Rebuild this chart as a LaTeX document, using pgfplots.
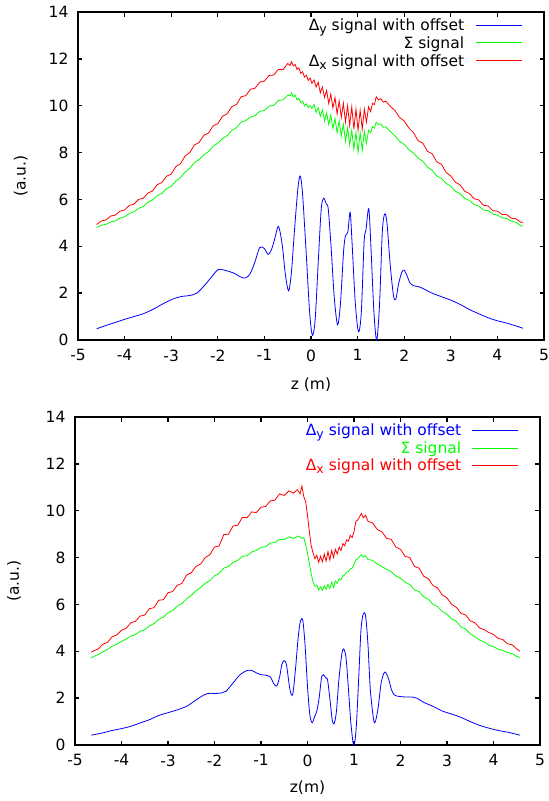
\documentclass[border=0pt]{standalone}
\usepackage{pgfplots}
\pgfplotsset{compat=1.18}
\usepackage{fontspec}
\setmainfont{DejaVu Sans}
\newcommand{\sub}[1]{\raisebox{-0.35ex}{\fontsize{12.5}{12.5}\selectfont #1}}

\tikzset{
  key/.style={line width=1pt},
  keytext/.style={anchor=base east, inner sep=0pt},
}
\pgfplotsset{
  sig/.style={
    scale only axis,
    xmin=-5, xmax=5, ymin=0, ymax=14,
    xtick={-5,-4,...,5},
    xticklabels={-5,-4,-3,-2,-1,0,1,2,3,4,5},
    ytick={0,2,...,14},
    yticklabels={0,2,4,6,8,10,12,14},
    xticklabel style={yshift=-6pt},
    yticklabel style={xshift=-6pt},
    tick align=inside,
    major tick length=4.5pt,
    axis line style={line width=1.6pt},
    every tick/.style={black, line width=1.3pt},
    ylabel={(a.u.)},
    clip=false,
    every axis plot/.append style={line width=0.8pt},
  },
}

\begin{document}
\begin{tikzpicture}[x=1pt, y=1pt, font=\fontsize{15.5}{18}\selectfont]
\path[use as bounding box] (-78pt,-461pt) rectangle (471pt,340pt);

% ---------- top panel ----------
\begin{axis}[sig,
  at={(0pt,0pt)}, anchor=south west,
  width=466pt, height=328pt,
  xlabel={z (m)},
  xlabel style={at={(axis description cs:0.5,-0.137)}, anchor=center},
  ylabel style={at={(axis description cs:-0.123,0.5)}, anchor=center},
]
\addplot[blue, smooth] coordinates {
(-4.6,0.48) (-4.4,0.62) (-4.2,0.75) (-4.0,0.88) (-3.8,1.0) (-3.6,1.12)
(-3.4,1.3) (-3.2,1.52) (-3.0,1.72) (-2.8,1.85) (-2.6,1.9) (-2.45,2.0)
(-2.3,2.3) (-2.15,2.65) (-2.0,3.0) (-1.9,3.0) (-1.8,2.95) (-1.65,2.85)
(-1.5,2.68) (-1.4,2.65) (-1.3,2.85) (-1.2,3.35) (-1.1,3.95) (-1.0,3.9)
(-0.92,3.65) (-0.85,3.85) (-0.78,4.3) (-0.7,4.85) (-0.62,4.1) (-0.55,2.8)
(-0.48,2.1) (-0.42,2.9) (-0.35,4.8) (-0.28,6.5) (-0.23,7.0) (-0.18,6.2)
(-0.1,3.6) (-0.03,1.2) (0.03,0.2) (0.09,0.9) (0.16,3.5) (0.22,5.6)
(0.27,6.05) (0.33,5.8) (0.37,5.6) (0.43,4.0) (0.5,1.8) (0.57,0.65)
(0.63,1.5) (0.7,3.8) (0.74,4.45) (0.79,4.6) (0.84,5.45) (0.88,4.2)
(0.95,1.6) (1.02,0.35) (1.08,1.2) (1.14,4.2) (1.18,4.7) (1.24,5.6)
(1.29,3.8) (1.35,1.2) (1.41,0.0) (1.47,1.5) (1.53,4.6) (1.58,5.38)
(1.63,5.0) (1.7,3.2) (1.77,1.9) (1.82,1.74) (1.88,2.4) (1.95,2.9)
(2.0,2.98) (2.06,2.75) (2.12,2.45) (2.2,2.32) (2.3,2.28) (2.4,2.2)
(2.6,2.0) (2.8,1.85) (3.0,1.7) (3.2,1.52) (3.4,1.3) (3.6,1.12)
(3.8,0.95) (4.0,0.82) (4.2,0.72) (4.4,0.6) (4.55,0.5)
};
\addplot[green] coordinates {
(-4.6,4.8) (-4.5,4.9) (-4.4,4.94) (-4.3,5.04) (-4.2,5.08) (-4.1,5.2)
(-4.0,5.26) (-3.9,5.4) (-3.8,5.47) (-3.7,5.62) (-3.6,5.7) (-3.5,5.88)
(-3.4,5.98) (-3.3,6.16) (-3.2,6.26) (-3.1,6.46) (-3.0,6.56) (-2.9,6.78)
(-2.8,6.94) (-2.7,7.17) (-2.6,7.33) (-2.5,7.58) (-2.4,7.7) (-2.3,7.91)
(-2.2,8.04) (-2.1,8.27) (-2.0,8.4) (-1.9,8.6) (-1.8,8.72) (-1.7,8.94)
(-1.6,9.06) (-1.5,9.3) (-1.4,9.36) (-1.3,9.52) (-1.2,9.58) (-1.1,9.76)
(-1.0,9.8) (-0.9,9.98) (-0.8,10.02) (-0.7,10.22) (-0.6,10.25) (-0.5,10.45)
(-0.45,10.42) (-0.42,10.55) (-0.38,10.38) (-0.34,10.45) (-0.3,10.25)
(-0.26,10.32) (-0.22,10.12) (-0.18,10.2) (-0.14,10.0) (-0.1,10.08)
(-0.06,9.92) (-0.02,10.0) (0.02,9.88) (0.065,10.05) (0.11,9.72)
(0.155,9.92) (0.2,9.55) (0.245,9.82) (0.29,9.35) (0.335,9.7) (0.38,9.2)
(0.425,9.6) (0.47,9.03) (0.515,9.45) (0.56,8.85) (0.605,9.35) (0.65,8.7)
(0.695,9.2) (0.74,8.48) (0.785,9.05) (0.83,8.33) (0.875,8.95) (0.92,8.15)
(0.965,8.85) (1.01,8.02) (1.055,8.85) (1.1,8.1) (1.145,8.9) (1.19,8.4)
(1.235,8.95) (1.28,8.85) (1.32,9.1) (1.36,9.05) (1.4,9.3) (1.45,9.2)
(1.5,9.22) (1.55,9.08) (1.6,9.1) (1.7,8.9) (1.8,8.72) (1.9,8.48)
(2.0,8.35) (2.1,8.12) (2.2,7.98) (2.3,7.76) (2.4,7.63) (2.5,7.38)
(2.6,7.24) (2.7,7.0) (2.8,6.9) (2.9,6.68) (3.0,6.56) (3.1,6.35)
(3.2,6.24) (3.3,6.04) (3.4,5.96) (3.5,5.78) (3.6,5.72) (3.7,5.55)
(3.8,5.52) (3.9,5.38) (4.0,5.33) (4.1,5.22) (4.2,5.18) (4.3,5.07)
(4.4,5.02) (4.5,4.88) (4.55,4.86)
};
\addplot[red] coordinates {
(-4.6,4.93) (-4.5,5.08) (-4.4,5.12) (-4.3,5.29) (-4.2,5.33) (-4.1,5.5)
(-4.0,5.55) (-3.9,5.74) (-3.8,5.8) (-3.7,6.0) (-3.6,6.05) (-3.5,6.27)
(-3.4,6.36) (-3.3,6.63) (-3.2,6.72) (-3.1,6.99) (-3.0,7.08) (-2.9,7.4)
(-2.8,7.53) (-2.7,7.86) (-2.6,8.0) (-2.5,8.33) (-2.4,8.43) (-2.3,8.74)
(-2.2,8.83) (-2.1,9.14) (-2.0,9.23) (-1.9,9.55) (-1.8,9.65) (-1.7,9.96)
(-1.6,10.05) (-1.5,10.38) (-1.4,10.43) (-1.3,10.7) (-1.2,10.75) (-1.1,11.01)
(-1.0,11.05) (-0.9,11.29) (-0.8,11.31) (-0.7,11.55) (-0.6,11.54) (-0.5,11.8)
(-0.45,11.72) (-0.42,11.88) (-0.38,11.7) (-0.34,11.76) (-0.3,11.55)
(-0.26,11.62) (-0.22,11.38) (-0.18,11.45) (-0.14,11.22) (-0.1,11.3)
(-0.06,11.08) (-0.02,11.18) (0.02,10.95) (0.065,11.1) (0.11,10.8)
(0.155,11.0) (0.2,10.55) (0.245,10.8) (0.29,10.35) (0.335,10.65) (0.38,10.1)
(0.425,10.5) (0.47,9.9) (0.515,10.35) (0.56,9.65) (0.605,10.2) (0.65,9.5)
(0.695,10.1) (0.74,9.3) (0.785,10.0) (0.83,9.15) (0.875,9.95) (0.92,9.0)
(0.965,9.85) (1.01,8.95) (1.055,9.8) (1.1,9.0) (1.145,9.85) (1.19,9.3)
(1.235,9.95) (1.28,9.75) (1.32,10.1) (1.36,10.05) (1.4,10.38) (1.45,10.25)
(1.5,10.3) (1.55,10.15) (1.6,10.2) (1.7,9.98) (1.8,9.8) (1.9,9.5)
(2.0,9.35) (2.1,9.05) (2.2,8.85) (2.3,8.5) (2.4,8.4) (2.5,8.05)
(2.6,7.95) (2.7,7.6) (2.8,7.5) (2.9,7.15) (3.0,7.0) (3.1,6.73)
(3.2,6.62) (3.3,6.35) (3.4,6.25) (3.5,6.03) (3.6,5.98) (3.7,5.75)
(3.8,5.72) (3.9,5.52) (4.0,5.5) (4.1,5.36) (4.2,5.35) (4.3,5.2)
(4.4,5.17) (4.5,5.03) (4.55,5.02)
};
% key
\draw[blue, key]  (axis cs:3.54,13.44) -- (axis cs:4.53,13.44);
\draw[green, key] (axis cs:3.54,12.68) -- (axis cs:4.53,12.68);
\draw[red, key]   (axis cs:3.54,11.91) -- (axis cs:4.53,11.91);
\node[keytext] at (axis cs:3.29,13.21) {Δ\sub{y} signal with offset};
\node[keytext] at (axis cs:3.29,12.45) {Σ signal};
\node[keytext] at (axis cs:3.29,11.68) {Δ\sub{x} signal with offset};
\end{axis}

% ---------- bottom panel ----------
\begin{axis}[sig,
  at={(-3pt,-405pt)}, anchor=south west,
  width=465pt, height=328pt,
  xlabel={z(m)},
  xlabel style={at={(axis description cs:0.5,-0.131)}, anchor=center},
  ylabel style={at={(axis description cs:-0.131,0.5)}, anchor=center},
]
\addplot[blue, smooth] coordinates {
(-4.65,0.42) (-4.4,0.52) (-4.2,0.62) (-4.0,0.7) (-3.8,0.8) (-3.6,0.94)
(-3.4,1.08) (-3.2,1.26) (-3.0,1.38) (-2.8,1.5) (-2.6,1.65) (-2.45,1.85)
(-2.3,2.05) (-2.15,2.2) (-2.0,2.2) (-1.85,2.22) (-1.75,2.3) (-1.6,2.65)
(-1.45,3.0) (-1.3,3.18) (-1.2,3.18) (-1.1,3.08) (-1.0,3.0) (-0.9,2.98)
(-0.8,2.9) (-0.72,2.6) (-0.66,2.52) (-0.6,2.9) (-0.55,3.45) (-0.5,3.6)
(-0.45,3.4) (-0.38,2.4) (-0.32,2.15) (-0.26,3.2) (-0.2,4.6) (-0.15,5.3)
(-0.1,5.3) (-0.05,4.2) (0.0,2.5) (0.05,1.3) (0.1,0.95) (0.15,1.2)
(0.2,1.45) (0.25,2.0) (0.3,2.85) (0.34,3.0) (0.4,2.85) (0.43,2.8)
(0.48,2.0) (0.53,1.1) (0.57,0.9) (0.62,1.4) (0.68,2.9) (0.74,3.9)
(0.78,4.1) (0.83,3.7) (0.88,2.4) (0.93,1.0) (0.98,0.1) (1.01,0.05)
(1.05,0.8) (1.1,2.8) (1.15,4.9) (1.2,5.6) (1.25,5.5) (1.3,4.3)
(1.35,2.4) (1.42,1.1) (1.46,1.0) (1.52,1.6) (1.58,2.6) (1.64,3.05)
(1.68,3.1) (1.74,2.85) (1.8,2.4) (1.86,2.15) (1.95,2.08) (2.1,2.05)
(2.25,2.05) (2.35,2.0) (2.5,1.82) (2.7,1.65) (2.9,1.45) (3.1,1.32)
(3.3,1.18) (3.5,1.0) (3.7,0.84) (3.9,0.72) (4.1,0.62) (4.3,0.55)
(4.57,0.42)
};
\addplot[green] coordinates {
(-4.65,3.72) (-4.6,3.78) (-4.5,3.86) (-4.4,3.98) (-4.3,4.08) (-4.2,4.22)
(-4.1,4.3) (-4.0,4.42) (-3.9,4.52) (-3.8,4.65) (-3.7,4.72) (-3.6,4.85)
(-3.5,4.92) (-3.4,5.08) (-3.3,5.18) (-3.2,5.36) (-3.1,5.46) (-3.0,5.65)
(-2.9,5.74) (-2.8,5.93) (-2.7,6.04) (-2.6,6.24) (-2.5,6.38) (-2.4,6.58)
(-2.3,6.72) (-2.2,6.9) (-2.1,7.02) (-2.0,7.22) (-1.9,7.33) (-1.8,7.55)
(-1.7,7.62) (-1.6,7.8) (-1.5,7.88) (-1.4,8.05) (-1.3,8.08) (-1.2,8.24)
(-1.1,8.3) (-1.0,8.44) (-0.9,8.46) (-0.8,8.62) (-0.7,8.64) (-0.6,8.78)
(-0.5,8.76) (-0.4,8.88) (-0.3,8.82) (-0.2,8.92) (-0.12,8.82) (-0.08,8.85)
(-0.04,8.55) (0.0,8.2) (0.04,7.75) (0.08,7.3) (0.12,6.95) (0.16,6.78)
(0.2,6.82) (0.24,6.62) (0.28,6.75) (0.32,6.6) (0.36,6.8) (0.4,6.65)
(0.44,6.85) (0.48,6.68) (0.52,6.95) (0.56,6.72) (0.6,7.0) (0.64,6.9)
(0.68,7.1) (0.72,7.05) (0.76,7.22) (0.8,7.25) (0.84,7.38) (0.88,7.4)
(0.92,7.52) (0.96,7.55) (1.0,7.7) (1.04,7.9) (1.08,7.95) (1.12,8.05)
(1.16,8.12) (1.2,8.02) (1.25,8.08) (1.3,7.92) (1.4,7.88) (1.5,7.72)
(1.6,7.62) (1.7,7.5) (1.8,7.4) (1.9,7.22) (2.0,7.12) (2.1,6.95)
(2.2,6.85) (2.3,6.62) (2.4,6.55) (2.5,6.32) (2.6,6.22) (2.7,6.0)
(2.8,5.9) (2.9,5.7) (3.0,5.58) (3.1,5.38) (3.2,5.28) (3.3,5.04)
(3.4,4.95) (3.5,4.75) (3.6,4.62) (3.7,4.48) (3.8,4.4) (3.9,4.25)
(4.0,4.2) (4.1,4.08) (4.2,4.04) (4.3,3.95) (4.4,3.9) (4.5,3.78)
(4.57,3.74)
};
\addplot[red] coordinates {
(-4.65,3.96) (-4.6,4.02) (-4.5,4.1) (-4.4,4.3) (-4.3,4.38) (-4.2,4.62)
(-4.1,4.7) (-4.0,4.9) (-3.9,4.98) (-3.8,5.22) (-3.7,5.28) (-3.6,5.5)
(-3.5,5.55) (-3.4,5.82) (-3.3,5.86) (-3.2,6.18) (-3.1,6.2) (-3.0,6.5)
(-2.9,6.55) (-2.8,6.82) (-2.7,6.9) (-2.6,7.25) (-2.5,7.35) (-2.4,7.62)
(-2.3,7.72) (-2.2,8.0) (-2.1,8.12) (-2.0,8.45) (-1.9,8.5) (-1.8,8.98)
(-1.7,9.0) (-1.6,9.35) (-1.5,9.38) (-1.4,9.72) (-1.3,9.7) (-1.2,9.95)
(-1.1,9.92) (-1.0,10.15) (-0.9,10.18) (-0.8,10.42) (-0.7,10.45) (-0.6,10.72)
(-0.5,10.65) (-0.4,10.85) (-0.3,10.75) (-0.22,10.9) (-0.16,10.72) (-0.12,11.05)
(-0.08,10.6) (-0.04,10.4) (0.0,9.8) (0.04,9.1) (0.08,8.5) (0.12,8.2)
(0.16,7.95) (0.2,8.1) (0.24,7.8) (0.28,8.05) (0.32,7.82) (0.36,8.15)
(0.4,7.85) (0.44,8.25) (0.48,7.9) (0.52,8.3) (0.56,8.0) (0.6,8.35)
(0.64,8.15) (0.68,8.45) (0.72,8.3) (0.76,8.6) (0.8,8.5) (0.84,8.75)
(0.88,8.7) (0.92,8.95) (0.96,8.85) (1.0,9.1) (1.04,9.55) (1.08,9.6)
(1.12,9.75) (1.16,9.88) (1.2,9.7) (1.25,9.8) (1.3,9.55) (1.4,9.48)
(1.5,9.2) (1.6,9.1) (1.7,8.82) (1.8,8.78) (1.9,8.45) (2.0,8.35)
(2.1,8.05) (2.2,8.0) (2.3,7.62) (2.4,7.55) (2.5,7.2) (2.6,7.1)
(2.7,6.8) (2.8,6.7) (2.9,6.4) (3.0,6.28) (3.1,6.0) (3.2,5.88)
(3.3,5.62) (3.4,5.55) (3.5,5.3) (3.6,5.22) (3.7,5.0) (3.8,4.92)
(3.9,4.8) (4.0,4.72) (4.1,4.55) (4.2,4.5) (4.3,4.32) (4.4,4.28)
(4.5,4.1) (4.57,4.0)
};
% key
\draw[blue, key]  (axis cs:3.54,13.43) -- (axis cs:4.53,13.43);
\draw[green, key] (axis cs:3.54,12.66) -- (axis cs:4.53,12.66);
\draw[red, key]   (axis cs:3.54,11.94) -- (axis cs:4.53,11.94);
\node[keytext, text=blue]  at (axis cs:3.31,13.20) {Δ\sub{y} signal with offset};
\node[keytext, text=green] at (axis cs:3.31,12.43) {Σ signal};
\node[keytext, text=red]   at (axis cs:3.31,11.71) {Δ\sub{x} signal with offset};
\end{axis}
\end{tikzpicture}
\end{document}
